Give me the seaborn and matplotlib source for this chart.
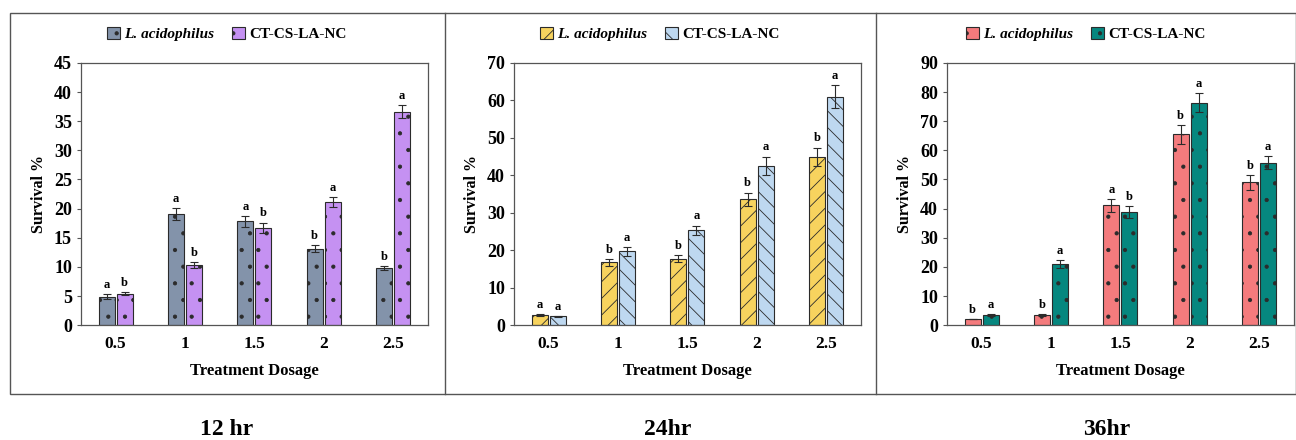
import matplotlib
matplotlib.use("Agg")
import matplotlib.pyplot as plt
from matplotlib.patches import Patch, Rectangle
from matplotlib.lines import Line2D
import seaborn as sns
import pandas as pd

# data
doses = ["0.5", "1", "1.5", "2", "2.5"]
series = ["L. acidophilus", "CT-CS-LA-NC"]

la_12 = [4.9, 19.1, 17.8, 13.1, 9.8]
ct_12 = [5.4, 10.3, 16.7, 21.1, 36.6]
la_12_err = [0.4, 1.0, 0.9, 0.6, 0.4]
ct_12_err = [0.25, 0.5, 0.9, 0.9, 1.1]
la_12_let = ["a", "a", "a", "b", "b"]
ct_12_let = ["b", "b", "b", "a", "a"]

la_24 = [2.7, 16.8, 17.7, 33.6, 45.0]
ct_24 = [2.4, 19.7, 25.3, 42.6, 61.0]
la_24_err = [0.2, 0.9, 0.9, 1.8, 2.4]
ct_24_err = [0.1, 1.2, 1.3, 2.4, 3.0]
la_24_let = ["a", "b", "b", "b", "b"]
ct_24_let = ["a", "a", "a", "a", "a"]

la_36 = [2.1, 3.5, 41.1, 65.5, 49.0]
ct_36 = [3.5, 20.9, 38.8, 76.3, 55.8]
la_36_err = [0.1, 0.2, 2.1, 3.2, 2.5]
ct_36_err = [0.2, 1.3, 2.1, 3.3, 2.3]
la_36_let = ["b", "b", "a", "b", "b"]
ct_36_let = ["a", "a", "b", "a", "a"]

titles = ["12 hr", "24hr", "36hr"]
ymaxes = [45, 70, 90]
ysteps = [5, 10, 10]

panels = [
    (la_12, ct_12, la_12_err, ct_12_err, la_12_let, ct_12_let, ["#8393AA", "#C591F2"], [".", "."]),
    (la_24, ct_24, la_24_err, ct_24_err, la_24_let, ct_24_let, ["#F7D35E", "#BED8F0"], ["//", "\\\\"]),
    (la_36, ct_36, la_36_err, ct_36_err, la_36_let, ct_36_let, ["#F47B7D", "#06877F"], [".", "."]),
]

plt.rcParams["font.family"] = ["Liberation Serif", "DejaVu Serif"]
plt.rcParams["font.weight"] = "bold"
plt.rcParams["hatch.linewidth"] = 0.6
plt.rcParams["hatch.color"] = "#1c1c3a"

fig = plt.figure(figsize=(12.96, 4.4), dpi=100)

ax_left = [0.0625, 0.3966, 0.7307]
ax_w = 0.2675
box_centers = [227, 660, 1086]
title_x = [227, 668, 1107]

for k, (la, ct, la_e, ct_e, la_l, ct_l, cols, hatches) in enumerate(panels):
    ax = fig.add_axes([ax_left[k], 0.261, ax_w, 0.596])
    df = pd.DataFrame({
        "Dose": doses * 2,
        "Value": la + ct,
        "Series": [series[0]] * 5 + [series[1]] * 5,
    })
    sns.barplot(data=df, x="Dose", y="Value", hue="Series", order=doses,
                hue_order=series, palette=cols, width=0.52, gap=0.1,
                saturation=1, edgecolor="#2b2b2b", linewidth=0.8,
                errorbar=None, legend=False, ax=ax)

    errs = [la_e, ct_e]
    lets = [la_l, ct_l]
    bar_sets = list(ax.containers)
    for i, cont in enumerate(bar_sets):
        xs = [b.get_x() + b.get_width() / 2 for b in cont]
        ys = [b.get_height() for b in cont]
        for b in cont:
            b.set_hatch(hatches[i])
        ax.errorbar(xs, ys, yerr=errs[i], fmt="none", ecolor="#2b2b2b",
                    elinewidth=0.8, capsize=3, capthick=0.8)
        for x, y, e, t in zip(xs, ys, errs[i], lets[i]):
            ax.text(x, y + e + ymaxes[k] * 0.012, t, ha="center", va="bottom",
                    fontsize=9, fontweight="bold")

    ax.set_ylim(0, ymaxes[k])
    ax.set_yticks(range(0, ymaxes[k] + 1, ysteps[k]))
    ax.set_xlim(-0.5, 4.5)
    ax.set_xlabel("Treatment Dosage", fontsize=12, fontweight="bold", labelpad=8)
    ax.set_ylabel("Survival %", fontsize=11.5, fontweight="bold", labelpad=5)
    ax.tick_params(axis="y", labelsize=13, length=3, color="#555555")
    ax.tick_params(axis="x", labelsize=12.5, length=0, pad=8)
    for lab in ax.get_xticklabels() + ax.get_yticklabels():
        lab.set_fontweight("bold")
    for sp in ax.spines.values():
        sp.set_color("#555555")
        sp.set_linewidth(0.9)

    handles = [Patch(facecolor=cols[j], edgecolor="#2b2b2b", hatch=hatches[j],
                     linewidth=0.8) for j in range(2)]
    leg = fig.legend(handles, series, loc="center",
                     bbox_to_anchor=(box_centers[k] / 1296, 1 - 34 / 440),
                     ncol=2, frameon=False, handlelength=0.8, handleheight=0.8,
                     handletextpad=0.3, columnspacing=1.2,
                     prop={"size": 11, "weight": "bold"})
    leg.get_texts()[0].set_fontstyle("italic")

    fig.text(title_x[k] / 1296, 1 - 429 / 440, titles[k], ha="center",
             va="center", fontsize=17, fontweight="bold")

# outer frame and panel dividers
fig.add_artist(Rectangle((10 / 1296, 1 - 394 / 440), 1 - 10 / 1296, (394 - 13) / 440,
                         transform=fig.transFigure, fill=False,
                         edgecolor="#555555", linewidth=1.0))
for xd in [445, 876]:
    fig.add_artist(Line2D([xd / 1296, xd / 1296], [1 - 394 / 440, 1 - 13 / 440],
                          transform=fig.transFigure, color="#555555", linewidth=1.0))

fig.savefig("out.png", dpi=100)
